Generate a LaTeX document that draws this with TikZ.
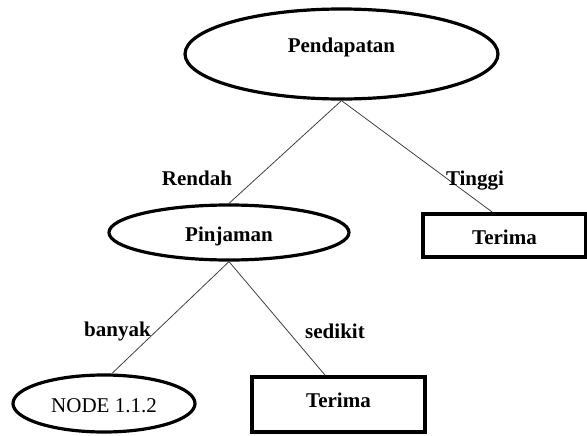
\documentclass[tikz,border=0pt]{standalone}
\usepackage{fontspec}
\setmainfont{Liberation Serif}
\usetikzlibrary{shapes.geometric}
\newcommand{\treefont}{\fontsize{15.75}{18}\selectfont}
\tikzstyle{oval}=[ellipse, draw, line width=2.4pt, inner sep=0pt, text height=13.5pt, text depth=0pt, font={\treefont\bfseries}]
\tikzstyle{leaf}=[rectangle, draw, line width=2.6pt, inner sep=0pt, text height=13.5pt, text depth=0pt, font={\treefont\bfseries}]
\tikzstyle{branch}=[draw=black!75, line width=.6pt]
\tikzstyle{cond}=[anchor=base, inner sep=0pt, font={\treefont\bfseries}]

\begin{document}
\begin{tikzpicture}[x=.75pt, y=-.75pt]

    \useasboundingbox (0,0) rectangle (587,436);

    \node[oval, minimum width=234.75pt, minimum height=67.5pt, text depth=16.5pt] (pendapatan) at (341.5,54) {Pendapatan};
    \node[oval, minimum width=180pt, minimum height=41.25pt] (pinjaman) at (229,232.5) {Pinjaman};
    \node[leaf, minimum width=122.25pt, minimum height=32.25pt] (terimaA) at (504.5,235.5) {Terima};
    \node[oval, font=\treefont, minimum width=136.5pt, minimum height=42.75pt] (node112) at (104,403.5) {NODE 1.1.2};
    \node[leaf, minimum width=129.75pt, minimum height=41.25pt, text depth=9.75pt] (terimaB) at (338.5,404.5) {Terima};

    \draw[branch] (pendapatan.south) -- ([xshift=-9pt]terimaA.north);
    \draw[branch] (pendapatan.south) -- (pinjaman.north);
    \draw[branch] (pinjaman.south) -- ([xshift=6pt]node112.north);
    \draw[branch] (pinjaman.south) -- ([xshift=-10pt]terimaB.north);

    \node[cond] (rendah) at (197,185) {Rendah};
    \node[cond] (tinggi) at (475,185) {Tinggi};
    \node[cond] (banyak) at (117.5,336) {banyak};
    \node[cond] (sedikit) at (335,338) {sedikit};

\end{tikzpicture}
\end{document}
